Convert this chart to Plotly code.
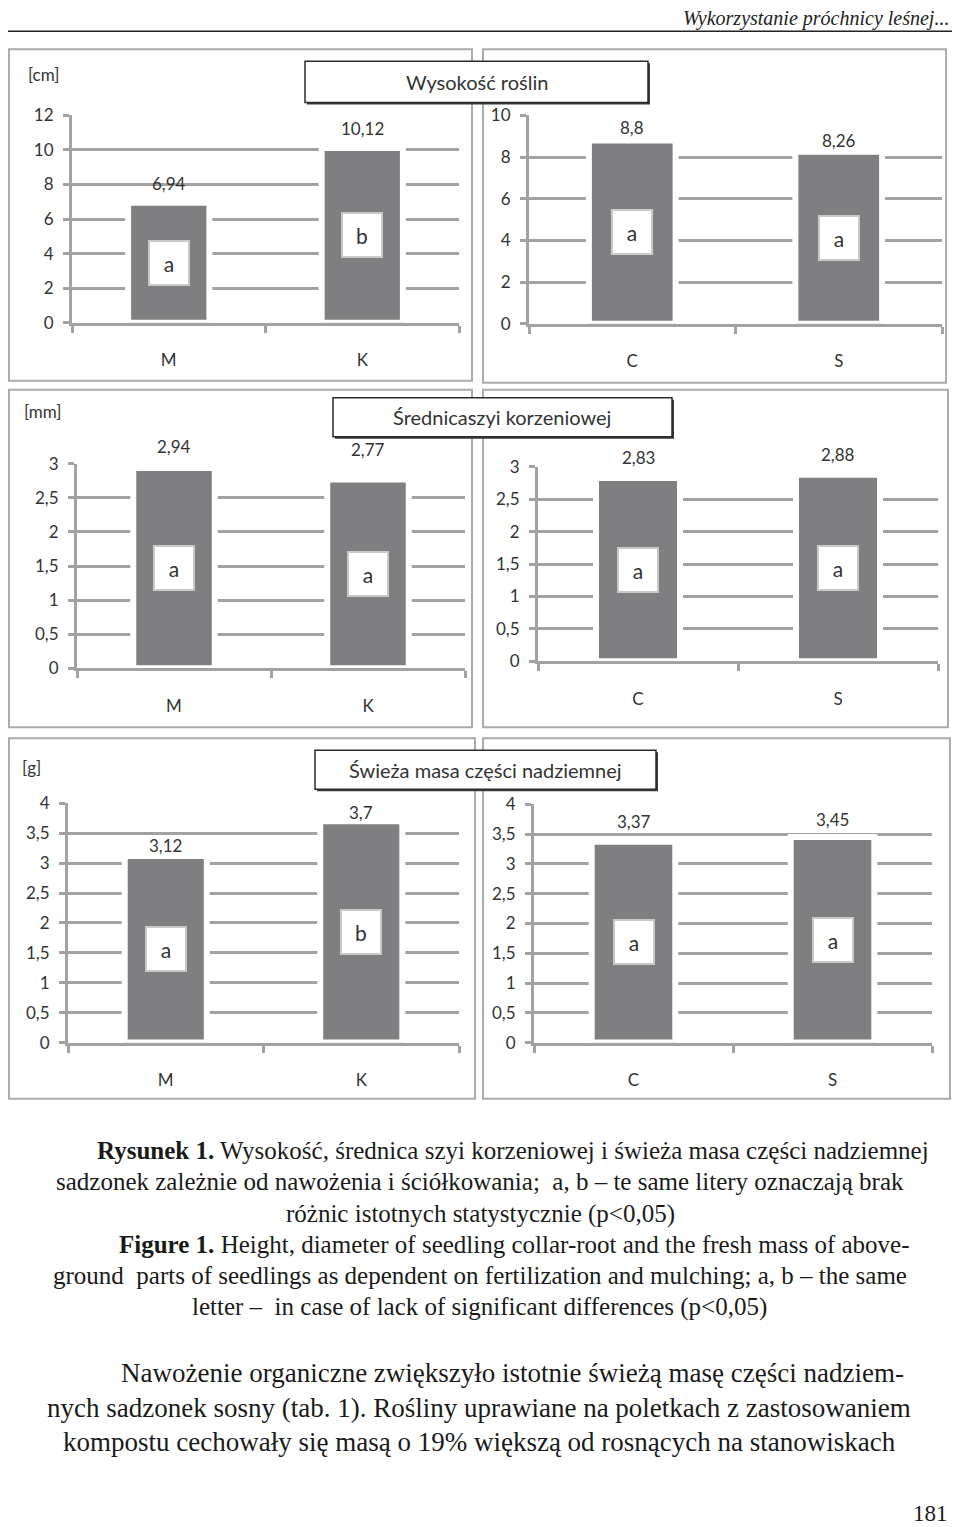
import plotly.graph_objs as go

# the photographed page puts the plot div at x+8 and maps its y as 19.7 + 0.985*y,
# so page positions below are converted back into figure pixels
OX = 8
OY, SY = 19.7, 0.985
FW, FH = 944, 1530

# data
categories_fert = ["M", "K"]
categories_mulch = ["C", "S"]

height_fert = [6.94, 10.12]
height_mulch = [8.8, 8.26]
diameter_fert = [2.94, 2.77]
diameter_mulch = [2.83, 2.88]
mass_fert = [3.12, 3.7]
mass_mulch = [3.37, 3.45]

groups_height_fert = ["a", "b"]
groups_height_mulch = ["a", "a"]
groups_diameter_fert = ["a", "a"]
groups_diameter_mulch = ["a", "a"]
groups_mass_fert = ["a", "b"]
groups_mass_mulch = ["a", "a"]

titles = ["Wysokość roślin", "Średnicaszyi korzeniowej", "Świeża masa części nadziemnej"]
units = ["[cm]", "[mm]", "[g]"]

BAR = "#7f7f81"
GRID = "#a2a2a2"
TXT = "#333333"
CHART_FONT = "Lato"
SERIF = "Liberation Serif"


def fx(p):
    # page pixel -> paper x
    return (p - OX) / FW


def fy(p):
    # page pixel -> paper y
    return 1 - (p - OY) / SY / FH


# plot areas in page pixels: left, right, top, bottom
panels = [
    dict(cats=categories_fert, vals=height_fert, groups=groups_height_fert,
         box=(72, 459, 116, 323), ymax=12, dtick=2, shift=(19, 19)),
    dict(cats=categories_mulch, vals=height_mulch, groups=groups_height_mulch,
         box=(529, 942, 116, 324), ymax=10, dtick=2, shift=(13, 11)),
    dict(cats=categories_fert, vals=diameter_fert, groups=groups_diameter_fert,
         box=(77, 465, 464, 668), ymax=3, dtick=0.5, shift=(21, 30)),
    dict(cats=categories_mulch, vals=diameter_mulch, groups=groups_diameter_mulch,
         box=(538, 938, 467, 661), ymax=3, dtick=0.5, shift=(20, 20)),
    dict(cats=categories_fert, vals=mass_fert, groups=groups_mass_fert,
         box=(68, 459, 803, 1042), ymax=4, dtick=0.5, shift=(10, 9)),
    dict(cats=categories_mulch, vals=mass_mulch, groups=groups_mass_mulch,
         box=(534, 932, 804, 1042), ymax=4, dtick=0.5, shift=(20, 18)),
]

frames = [
    (9, 50, 472, 381), (483, 50, 946, 383),
    (9, 390, 472, 727), (483, 390, 948, 727),
    (9, 738, 475, 1098), (483, 738, 950, 1098),
]
title_boxes = [(305, 62, 648, 103), (333, 398, 672, 437), (315, 750, 656, 789)]
unit_pos = [(43, 75), (42, 412), (31, 767)]

data = []
layout_axes = {}
annotations = []

for i, p in enumerate(panels):
    n = "" if i == 0 else str(i + 1)
    l, r, t, b = p["box"]
    data.append(go.Bar(
        x=p["cats"], y=p["vals"],
        xaxis="x" + n, yaxis="y" + n,
        width=0.42,
        marker=dict(color=BAR, line=dict(color="white", width=6)),
        hoverinfo="x+y",
        showlegend=False
    ))
    layout_axes["xaxis" + n] = dict(
        domain=[fx(l), fx(r)], anchor="y" + n, type="category",
        showline=True, linecolor=GRID, linewidth=3,
        ticks="outside", tickson="boundaries", ticklen=7, tickwidth=3, tickcolor=GRID,
        showgrid=False, ticklabelstandoff=20,
        tickfont=dict(family=CHART_FONT, size=17, color=TXT),
        fixedrange=True
    )
    layout_axes["yaxis" + n] = dict(
        domain=[fy(b), fy(t)], anchor="x" + n,
        range=[0, p["ymax"]], dtick=p["dtick"],
        showline=True, linecolor=GRID, linewidth=3,
        ticks="outside", ticklen=6, tickwidth=3, tickcolor=GRID,
        showgrid=True, gridcolor=GRID, gridwidth=3, zeroline=False,
        ticklabelstandoff=6,
        tickfont=dict(family=CHART_FONT, size=17, color=TXT),
        fixedrange=True
    )
    for k, v in enumerate(p["vals"]):
        annotations.append(dict(
            x=k, y=v, xref="x" + n, yref="y" + n,
            xanchor="center", yanchor="middle",
            text=str(v).replace(".", ","), showarrow=False,
            yshift=p["shift"][k],
            font=dict(family=CHART_FONT, size=17, color=TXT)
        ))
        annotations.append(dict(
            x=k, y=v / 2, xref="x" + n, yref="y" + n,
            xanchor="center", yanchor="middle",
            text=p["groups"][k], showarrow=False,
            width=36, height=40, bgcolor="white",
            bordercolor="#c9c9c9", borderwidth=2, borderpad=1,
            font=dict(family=CHART_FONT, size=21, color=TXT)
        ))


def page_text(text, x, y, size, family=CHART_FONT, anchor="center", color=TXT):
    annotations.append(dict(x=fx(x), y=fy(y), xref="paper", yref="paper",
                            xanchor=anchor, yanchor="middle",
                            text=text, showarrow=False,
                            font=dict(family=family, size=size, color=color)))


shapes = []
for (x0, y0, x1, y1) in frames:
    shapes.append(dict(type="rect", xref="paper", yref="paper",
                       x0=fx(x0), x1=fx(x1), y0=fy(y1), y1=fy(y0),
                       line=dict(color="#ababab", width=2), fillcolor="rgba(0,0,0,0)"))

for (x0, y0, x1, y1), title in zip(title_boxes, titles):
    shapes.append(dict(type="rect", xref="paper", yref="paper", layer="above",
                       x0=fx(x0 + 2), x1=fx(x1 + 2), y0=fy(y1 + 2), y1=fy(y0 + 2),
                       line=dict(width=0), fillcolor="#3a3a3a"))
    shapes.append(dict(type="rect", xref="paper", yref="paper", layer="above",
                       x0=fx(x0), x1=fx(x1), y0=fy(y1), y1=fy(y0),
                       line=dict(color="#2b2b2b", width=1.5), fillcolor="white"))
    page_text(title, (x0 + x1) / 2, (y0 + y1) / 2, 20)

for (ux, uy), u in zip(unit_pos, units):
    page_text(u, ux, uy, 17)

# running head (pushed a little lower so the top of the page does not clip it)
shapes.append(dict(type="line", xref="paper", yref="paper",
                   x0=fx(8), x1=fx(952), y0=fy(32), y1=fy(32),
                   line=dict(color="#222", width=1.5)))
page_text("<i>Wykorzystanie próchnicy leśnej...</i>", 951, 19, 20, SERIF, "right", "#222")

# caption (justified lines in the print, centred on their span here)
caption = [
    ("<b>Rysunek 1.</b> Wysokość, średnica szyi korzeniowej i świeża masa części nadziemnej", 513, 1150),
    ("sadzonek zależnie od nawożenia i ściółkowania;&nbsp; a, b – te same litery oznaczają brak", 480, 1181),
    ("różnic istotnych statystycznie (p&lt;0,05)", 480, 1213),
    ("<b>Figure 1.</b> Height, diameter of seedling collar-root and the fresh mass of above-", 514, 1244),
    ("ground&nbsp; parts of seedlings as dependent on fertilization and mulching; a, b – the same", 480, 1275),
    ("letter –&nbsp; in case of lack of significant differences (p&lt;0,05)", 479, 1306),
]
for text, x, y in caption:
    page_text(text, x, y, 25, SERIF, "center", "#1a1a1a")

body = [
    ("Nawożenie organiczne zwiększyło istotnie świeżą masę części nadziem-", 512, 1372),
    ("nych sadzonek sosny (tab. 1). Rośliny uprawiane na poletkach z zastosowaniem", 479, 1407),
    ("kompostu cechowały się masą o 19% większą od rosnących na stanowiskach", 479, 1441),
]
for text, x, y in body:
    page_text(text, x, y, 27, SERIF, "center", "#1a1a1a")

page_text("181", 950, 1512, 23, SERIF, "right", "#1a1a1a")

layout = go.Layout(
    width=FW, height=FH, autosize=False,
    margin=dict(l=0, r=0, t=0, b=0),
    paper_bgcolor="white", plot_bgcolor="white",
    separators=", ",
    shapes=shapes,
    annotations=annotations,
    **layout_axes
)

fig = go.Figure(data=data, layout=layout)
fig.write_html("out.html")
